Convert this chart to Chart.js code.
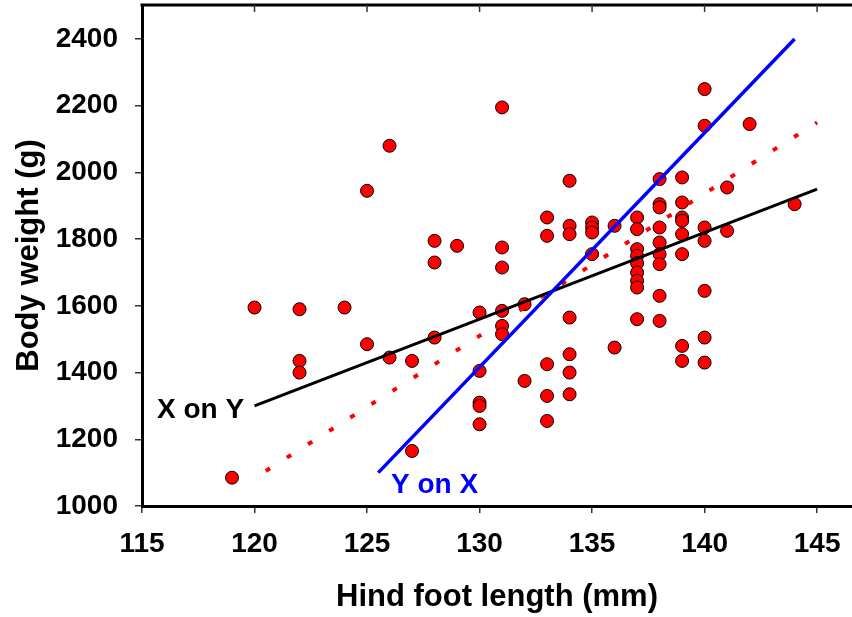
<!DOCTYPE html>
<html>
<head>
<meta charset="utf-8">
<title>Body weight vs hind foot length</title>
<script src="https://cdn.jsdelivr.net/npm/chart.js@4/dist/chart.umd.min.js"></script>
<style>
  html, body { margin: 0; padding: 0; background: #fff; }
  #wrap { width: 852px; height: 617px; position: relative; }
</style>
</head>
<body>
<div id="wrap"><canvas id="chart"></canvas></div>
<script>
// Hind foot length (mm) / body weight (g)
const footLength = [
  119, 120, 122, 122, 122, 124, 125, 125, 126, 126, 127, 127,
  128, 128, 128, 129, 130, 130, 130, 130, 130,
  131, 131, 131, 131, 131, 131, 132, 132,
  133, 133, 133, 133, 133,
  134, 134, 134, 134, 134, 134, 134,
  135, 135, 135, 135, 136, 136,
  137, 137, 137, 137, 137, 137, 137, 137, 137,
  138, 138, 138, 138, 138, 138, 138, 138, 138,
  139, 139, 139, 139, 139, 139, 139, 139,
  140, 140, 140, 140, 140, 140, 140,
  141, 141, 142, 144
];
const bodyWeight = [
  1085, 1595, 1590, 1435, 1400, 1595, 1945, 1485, 2080, 1445, 1435, 1165,
  1795, 1730, 1505, 1780, 1580, 1405, 1310, 1300, 1245,
  2195, 1775, 1715, 1585, 1540, 1515, 1605, 1375,
  1865, 1810, 1425, 1330, 1255,
  1975, 1840, 1815, 1565, 1455, 1400, 1335,
  1850, 1835, 1820, 1755, 1840, 1475,
  1865, 1830, 1770, 1750, 1728, 1700, 1675, 1655, 1560,
  1980, 1905, 1895, 1835, 1790, 1755, 1725, 1630, 1555,
  1985, 1910, 1865, 1855, 1815, 1755, 1480, 1435,
  2250, 2140, 1835, 1795, 1645, 1505, 1430,
  1955, 1825, 2145, 1905
];

// regression lines: [x, y] end points
const xOnY = [[120, 1300], [145, 1950]];
const yOnX = [[125.5, 1100], [144, 2400]];
const majorAxis = [[120.5, 1105], [145, 2150]];

// line labels placed in data units
const lineLabels = [
  { text: 'X on Y', x: 117.6, y: 1288, color: '#000000' },
  { text: 'Y on X', x: 128.0, y: 1063, color: '#0000ff' }
];

const xTicks = [115, 120, 125, 130, 135, 140, 145];
const yTicks = [1000, 1200, 1400, 1600, 1800, 2000, 2200, 2400];

const FONT = "'Liberation Sans', Arial, sans-serif";
const toPts = arr => arr.map(p => ({ x: p[0], y: p[1] }));

// top frame line with inward ticks, plus the line labels
const framePlugin = {
  id: 'frame',
  afterDatasetsDraw(chart) {
    const { ctx, chartArea, scales } = chart;
    ctx.save();
    ctx.strokeStyle = '#000';
    ctx.lineWidth = 3;
    ctx.beginPath();
    ctx.moveTo(chartArea.left - 1.5, chartArea.top);
    ctx.lineTo(chartArea.right, chartArea.top);
    ctx.stroke();

    ctx.lineWidth = 1.5;
    ctx.strokeStyle = '#333';
    xTicks.slice(1).forEach(v => {
      const px = scales.x.getPixelForValue(v);
      ctx.beginPath();
      ctx.moveTo(px, chartArea.top);
      ctx.lineTo(px, chartArea.top + 7);
      ctx.stroke();
    });

    ctx.font = 'bold 28px ' + FONT;
    ctx.textAlign = 'center';
    ctx.textBaseline = 'middle';
    lineLabels.forEach(l => {
      ctx.fillStyle = l.color;
      ctx.fillText(l.text, scales.x.getPixelForValue(l.x), scales.y.getPixelForValue(l.y));
    });
    ctx.restore();
  }
};

const ctx = document.getElementById('chart').getContext('2d');
new Chart(ctx, {
  type: 'scatter',
  data: {
    datasets: [
      {
        type: 'line',
        label: 'Y on X',
        data: toPts(yOnX),
        borderColor: '#0000ff',
        borderWidth: 3.5,
        pointRadius: 0,
        fill: false
      },
      {
        type: 'line',
        label: 'X on Y',
        data: toPts(xOnY),
        borderColor: '#000000',
        borderWidth: 3,
        pointRadius: 0,
        fill: false
      },
      {
        type: 'line',
        label: 'Major axis',
        data: toPts(majorAxis),
        borderColor: '#ff0000',
        borderWidth: 4,
        borderDash: [5, 20],
        borderCapStyle: 'butt',
        pointRadius: 0,
        fill: false
      },
      {
        label: 'Body weight',
        data: footLength.map((x, i) => ({ x: x, y: bodyWeight[i] })),
        backgroundColor: '#ff0000',
        borderColor: '#000000',
        borderWidth: 1,
        pointRadius: 6.5,
        pointHoverRadius: 6.5
      }
    ]
  },
  options: {
    responsive: true,
    maintainAspectRatio: false,
    animation: false,
    layout: { autoPadding: false, padding: { top: 5, right: 0, left: 0, bottom: 0 } },
    plugins: {
      legend: { display: false },
      tooltip: { enabled: false }
    },
    scales: {
      x: {
        type: 'linear',
        min: 115,
        max: 146.55,
        afterBuildTicks: s => { s.ticks = xTicks.map(v => ({ value: v })); },
        afterFit: s => { s.height = 111; s.paddingLeft = 0; s.paddingRight = 0; },
        border: { display: true, color: '#000', width: 3 },
        grid: { drawOnChartArea: false, drawTicks: true, tickLength: 7, color: '#333', lineWidth: 1.5 },
        ticks: {
          color: '#000',
          padding: 14,
          maxRotation: 0,
          font: { family: FONT, size: 28, weight: 'bold' },
          callback: v => String(v)
        },
        title: {
          display: true,
          text: 'Hind foot length (mm)',
          color: '#000',
          padding: { top: 0, bottom: 1 },
          font: { family: FONT, size: 31, weight: 'bold' }
        }
      },
      y: {
        type: 'linear',
        min: 1000,
        max: 2502,
        afterBuildTicks: s => { s.ticks = yTicks.map(v => ({ value: v })); },
        afterFit: s => { s.width = 142; s.paddingTop = 0; s.paddingBottom = 0; },
        border: { display: true, color: '#000', width: 3 },
        grid: { drawOnChartArea: false, drawTicks: true, tickLength: 7, color: '#333', lineWidth: 1.5 },
        ticks: {
          color: '#000',
          padding: 17,
          font: { family: FONT, size: 28, weight: 'bold' },
          callback: v => String(v)
        },
        title: {
          display: true,
          text: 'Body weight (g)',
          color: '#000',
          padding: { top: 11, bottom: 0 },
          font: { family: FONT, size: 31, weight: 'bold' }
        }
      }
    }
  },
  plugins: [framePlugin]
});
</script>
</body>
</html>
